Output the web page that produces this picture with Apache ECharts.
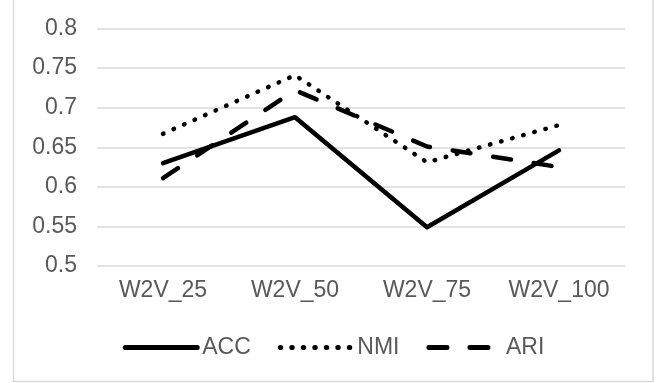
<!DOCTYPE html>
<html>
<head>
<meta charset="utf-8">
<script src="https://cdn.jsdelivr.net/npm/echarts@6/dist/echarts.min.js"></script>
<style>
  html, body { margin: 0; padding: 0; background: #ffffff; }
  #chart { width: 667px; height: 383px; }
</style>
</head>
<body>
<div id="chart"></div>
<script>
// Clustering scores per embedding size
const categories = ['W2V_25', 'W2V_50', 'W2V_75', 'W2V_100'];
const accValues = [0.630, 0.688, 0.549, 0.646];
const nmiValues = [0.667, 0.741, 0.631, 0.678];
const ariValues = [0.611, 0.722, 0.651, 0.625];
const yTicks = [0.5, 0.55, 0.6, 0.65, 0.7, 0.75, 0.8];

const FONT = '"Liberation Sans", Arial, sans-serif';
const TEXT = '#595959';
const FS = 23;

const chart = echarts.init(document.getElementById('chart'), null, { renderer: 'canvas' });

function lineSeries(name, values, dash) {
  return {
    name: name,
    type: 'line',
    data: values,
    symbol: 'none',
    animation: false,
    lineStyle: { color: '#000000', width: 4.5, type: dash, cap: 'round', join: 'round' },
    itemStyle: { color: '#000000' },
    emphasis: { disabled: true }
  };
}

chart.setOption({
  backgroundColor: '#ffffff',
  animation: false,
  // light frame around the whole chart area
  graphic: [{
    type: 'rect',
    shape: { x: 13.5, y: -5, width: 639.5, height: 386.5 },
    style: { fill: 'none', stroke: '#d9d9d9', lineWidth: 1.5 },
    silent: true
  }],
  grid: { left: 97, right: 42, top: 28.5, bottom: 117, containLabel: false, outerBoundsMode: 'none' },
  xAxis: {
    type: 'category',
    data: categories,
    boundaryGap: true,
    axisLine: { show: false },
    axisTick: { show: false },
    axisLabel: { color: TEXT, fontFamily: FONT, fontSize: FS, margin: 13, interval: 0, hideOverlap: false }
  },
  yAxis: {
    type: 'value',
    min: yTicks[0],
    max: yTicks[yTicks.length - 1],
    interval: 0.05,
    axisLine: { show: false },
    axisTick: { show: false },
    splitLine: { lineStyle: { color: '#d9d9d9', width: 1.5 } },
    axisLabel: {
      color: TEXT, fontFamily: FONT, fontSize: FS, margin: 20, align: 'right',
      formatter: function (v) { return String(parseFloat(v.toFixed(2))); }
    }
  },
  legend: {
    data: ['ACC', 'NMI', 'ARI'],
    bottom: 19,
    left: 'center',
    itemWidth: 72,
    itemHeight: 14,
    itemGap: 27,
    itemStyle: { color: 'rgba(0,0,0,0)', opacity: 0, borderWidth: 0 },
    lineStyle: { width: 5, color: '#000000' },
    textStyle: { color: TEXT, fontFamily: FONT, fontSize: FS }
  },
  series: [
    lineSeries('ACC', accValues, 'solid'),
    lineSeries('NMI', nmiValues, [0.5, 11]),
    lineSeries('ARI', ariValues, [18, 23])
  ]
});
</script>
</body>
</html>
